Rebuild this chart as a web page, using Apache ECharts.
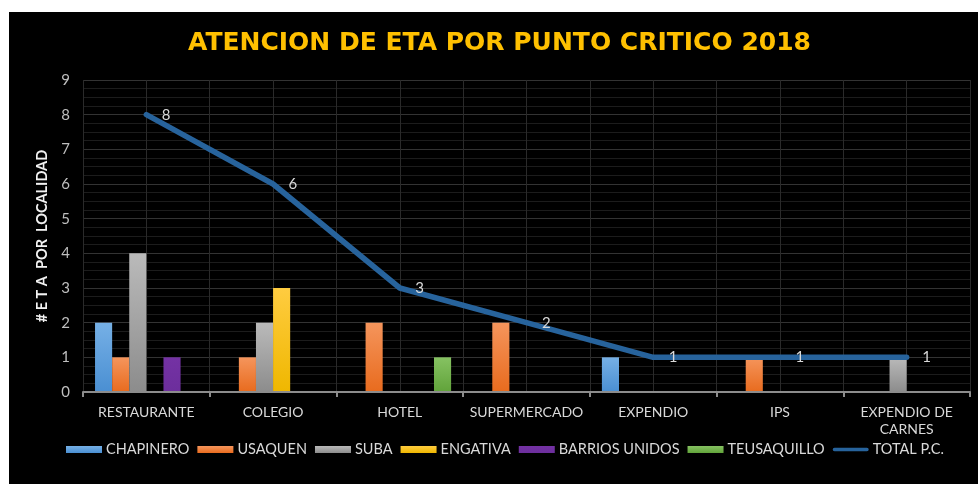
<!DOCTYPE html>
<html>
<head>
<meta charset="utf-8">
<script src="https://cdn.jsdelivr.net/npm/echarts@6/dist/echarts.min.js"></script>
<style>
    html, body {
        margin: 0;
        padding: 0;
        background: #fff;
    }
    .frame {
        position: absolute;
        left: 9px;
        top: 12px;
        width: 969px;
        height: 472px;
        background: #000;
    }
    #chart {
        position: absolute;
        left: 0;
        top: 0;
        width: 978px;
        height: 484px;
    }
</style>
</head>
<body>
<div class="frame"></div>
<div id="chart"></div>
<script>
    // datos de la grafica
    const categories = ['RESTAURANTE', 'COLEGIO', 'HOTEL', 'SUPERMERCADO', 'EXPENDIO', 'IPS', 'EXPENDIO DE\nCARNES']
    const chapinero = [2, 0, 0, 0, 1, 0, 0]
    const usaquen = [1, 1, 2, 2, 0, 1, 0]
    const suba = [4, 2, 0, 0, 0, 0, 1]
    const engativa = [0, 3, 0, 0, 0, 0, 0]
    const barriosUnidos = [1, 0, 0, 0, 0, 0, 0]
    const teusaquillo = [0, 0, 1, 0, 0, 0, 0]
    const totalPC = [8, 6, 3, 2, 1, 1, 1]
    const yTicks = [0, 1, 2, 3, 4, 5, 6, 7, 8, 9]

    const font = 'Lato, "Open Sans", sans-serif'

    function grad (top, bottom) {
        return new echarts.graphic.LinearGradient(0, 0, 0, 1, [
            {offset: 0, color: top},
            {offset: 1, color: bottom}
        ])
    }

    function barSeries (name, data, top, bottom) {
        return {
            name: name,
            type: 'bar',
            data: data.map(v => v === 0 ? null : v),
            barGap: '0%',
            barCategoryGap: '19%',
            itemStyle: {color: grad(top, bottom)}
        }
    }

    const chart = echarts.init(document.getElementById('chart'))
    chart.setOption({
        backgroundColor: 'transparent',
        textStyle: {fontFamily: font},
        title: {
            text: 'ATENCION DE ETA POR PUNTO CRITICO 2018',
            left: 183,
            top: 26,
            textStyle: {
                color: '#FFC000',
                fontSize: 25,
                fontWeight: 'bold',
                fontFamily: '"DejaVu Sans", sans-serif'
            }
        },
        legend: {
            left: 66,
            top: 442,
            padding: 0,
            itemWidth: 36,
            itemHeight: 7,
            itemGap: 8,
            textStyle: {color: '#d9d9d9', fontSize: 14.5, fontFamily: font, padding: [0, 0, 0, -1]},
            data: [
                {name: 'CHAPINERO', icon: 'rect'},
                {name: 'USAQUEN', icon: 'rect'},
                {name: 'SUBA', icon: 'rect'},
                {name: 'ENGATIVA', icon: 'rect'},
                {name: 'BARRIOS UNIDOS', icon: 'rect'},
                {name: 'TEUSAQUILLO', icon: 'rect'},
                {name: 'TOTAL P.C.', icon: 'path://M2,0 L38,0 A2,2 0 0 1 38,4 L2,4 A2,2 0 0 1 2,0 Z'}
            ]
        },
        grid: {
            left: 83,
            right: 8,
            top: 80,
            bottom: 92
        },
        xAxis: [
            {
                type: 'category',
                data: categories,
                axisLine: {lineStyle: {color: '#8c8c8c', width: 2}},
                axisTick: {show: true, length: 5, lineStyle: {color: '#8c8c8c', width: 2}},
                axisLabel: {color: '#d9d9d9', fontSize: 14, margin: 12, interval: 0, lineHeight: 17},
                splitLine: {show: false},
                z: 5
            },
            {
                // rejilla vertical cada media categoria
                type: 'value',
                min: 0,
                max: categories.length * 2,
                interval: 1,
                show: true,
                axisLine: {show: false},
                axisTick: {show: false},
                axisLabel: {show: false},
                splitLine: {show: true, lineStyle: {color: '#2a2a2a', width: 1}},
                position: 'bottom'
            }
        ],
        yAxis: {
            type: 'value',
            min: yTicks[0],
            max: yTicks[yTicks.length - 1],
            interval: 1,
            name: '# E T A  POR  LOCALIDAD',
            nameLocation: 'middle',
            nameGap: 33,
            nameTextStyle: {color: '#f2f2f2', fontSize: 14.5, fontWeight: 'bold', fontFamily: font},
            axisLine: {show: false},
            axisTick: {show: false},
            axisLabel: {color: '#bfbfbf', fontSize: 15, margin: 13},
            splitLine: {lineStyle: {color: '#333333', width: 1}},
            minorTick: {show: false, splitNumber: 4},
            minorSplitLine: {show: true, lineStyle: {color: '#1c1c1c', width: 1}}
        },
        series: [
            barSeries('CHAPINERO', chapinero, '#76b0e6', '#4a8fd2'),
            barSeries('USAQUEN', usaquen, '#f5955c', '#e86b1e'),
            barSeries('SUBA', suba, '#bababa', '#8c8c8c'),
            barSeries('ENGATIVA', engativa, '#ffcc40', '#efb700'),
            barSeries('BARRIOS UNIDOS', barriosUnidos, '#7432a4', '#6c2e9c'),
            barSeries('TEUSAQUILLO', teusaquillo, '#86c262', '#61a33a'),
            {
                name: 'TOTAL P.C.',
                type: 'line',
                data: totalPC,
                symbol: 'circle',
                symbolSize: 1,
                showSymbol: true,
                color: '#27639c',
                itemStyle: {color: '#27639c'},
                lineStyle: {color: '#27639c', width: 5.5, cap: 'round', join: 'round'},
                label: {
                    show: true,
                    position: 'right',
                    distance: 15,
                    color: '#d9d9d9',
                    fontSize: 15,
                    fontFamily: font
                },
                z: 10
            }
        ]
    })
</script>
</body>
</html>
